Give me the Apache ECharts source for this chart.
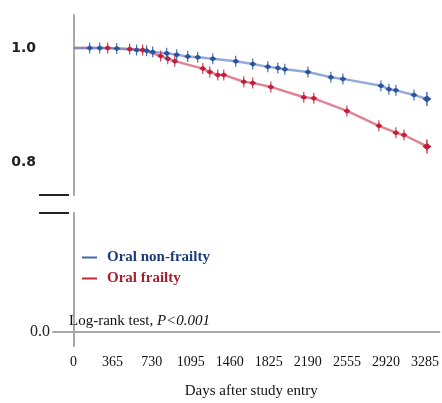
<!DOCTYPE html>
<html>
<head>
<meta charset="utf-8">
<script src="https://cdn.jsdelivr.net/npm/echarts@6/dist/echarts.min.js"></script>
<style>
  html, body { margin: 0; padding: 0; background: #fff; }
  #chart { width: 442px; height: 403px; }
</style>
</head>
<body>
<div id="chart"></div>
<script>
// 刻度
const dayTicks = [0, 365, 730, 1095, 1460, 1825, 2190, 2555, 2920, 3285];
const survTicks = [0.8, 1.0];

// Oral non-frailty 删失点
const nonFrailDays = [149, 242, 400, 585, 678, 734, 864, 957, 1059, 1152, 1292, 1505, 1663, 1803, 1896, 1961, 2175, 2388, 2500, 2853, 2927, 2992, 3160, 3280];
const nonFrailSurv = [1.0, 1.0, 0.999, 0.9965, 0.995, 0.993, 0.991, 0.988, 0.985, 0.984, 0.981, 0.977, 0.972, 0.967, 0.965, 0.963, 0.958, 0.949, 0.946, 0.934, 0.928, 0.926, 0.918, 0.911];

// Oral frailty 删失点
const frailDays = [316, 520, 641, 808, 874, 939, 1199, 1264, 1338, 1394, 1580, 1663, 1831, 2137, 2230, 2537, 2834, 2992, 3067, 3280];
const frailSurv = [1.0, 0.998, 0.9965, 0.986, 0.981, 0.977, 0.964, 0.958, 0.953, 0.953, 0.941, 0.939, 0.932, 0.914, 0.912, 0.890, 0.864, 0.852, 0.848, 0.828];

const serif = "'Liberation Serif', 'DejaVu Serif', serif";
// 删失标记：竖线中间带菱形
const censorMark = 'path://M3,0 L4,0 L4,3 L7,5.5 L4,8 L4,11 L3,11 L3,8 L0,5.5 L3,3 Z';

// 曲线数据：起点 (0, 1.0) 不画删失标记，最后一点加大
function buildCurve(days, surv) {
  const pts = [{ value: [0, 1.0], symbol: 'none' }];
  days.forEach((d, i) => {
    const last = i === days.length - 1;
    pts.push({ value: [d, surv[i]], symbolSize: last ? [9, 14] : [7, 11] });
  });
  return pts;
}

const chart = echarts.init(document.getElementById('chart'));

const axisGray = { show: true, lineStyle: { color: '#a8a8a8', width: 2 } };

chart.setOption({
  animation: false,
  title: {
    left: 69,
    top: 314,
    padding: 0,
    text: '{a|Log-rank test, }{b|P<0.001}',
    textStyle: {
      fontWeight: 'normal',
      rich: {
        a: { fontFamily: serif, fontSize: 15, fontWeight: 'normal', color: '#111' },
        b: { fontFamily: serif, fontSize: 15, fontWeight: 'normal', color: '#111', fontStyle: 'italic' },
      },
    },
  },
  legend: {
    orient: 'vertical',
    left: 82,
    top: 249,
    padding: 0,
    itemGap: 4,
    itemWidth: 15,
    itemHeight: 2,
    icon: 'rect',
    textStyle: { fontFamily: serif, fontSize: 15, fontWeight: 'bold', lineHeight: 17, padding: [0, 0, 0, 5] },
    data: [
      { name: 'Oral non-frailty', itemStyle: { color: '#3d6bb3' }, textStyle: { color: '#1d3b7a' } },
      { name: 'Oral frailty', itemStyle: { color: '#c0283a' }, textStyle: { color: '#a81c2c' } },
    ],
  },
  grid: [
    { left: 53, right: 0, top: 15, height: 180 },
    { left: 53, right: 0, top: 213, height: 133 },
  ],
  xAxis: [
    {
      gridIndex: 0,
      type: 'value',
      min: -192,
      max: 3420,
      show: false,
    },
    {
      gridIndex: 1,
      type: 'value',
      min: -192,
      max: 3420,
      axisLine: axisGray,
      axisTick: { show: false },
      splitLine: { show: false },
      axisLabel: {
        customValues: dayTicks,
        formatter: (v) => String(v),
        margin: 9,
        fontFamily: serif,
        fontSize: 14,
        color: '#111',
      },
      name: 'Days after study entry',
      nameLocation: 'middle',
      nameGap: 38,
      nameTextStyle: { fontFamily: serif, fontSize: 15, color: '#111', padding: [0, 0, 0, 10] },
    },
  ],
  yAxis: [
    {
      gridIndex: 0,
      type: 'value',
      min: 0.7432,
      max: 1.0576,
      axisLine: axisGray,
      axisTick: { show: false },
      splitLine: { show: false },
      axisLabel: {
        customValues: survTicks,
        formatter: (v) => v.toFixed(1),
        margin: 17,
        fontFamily: "'DejaVu Sans', sans-serif",
        fontWeight: 'bold',
        fontSize: 14,
        color: '#222',
      },
    },
    {
      gridIndex: 1,
      type: 'value',
      min: -0.1176,
      max: 1,
      axisLine: axisGray,
      axisTick: { show: false },
      splitLine: { show: false },
      axisLabel: {
        customValues: [0],
        formatter: (v) => v.toFixed(1),
        margin: 3,
        fontFamily: serif,
        fontSize: 16,
        color: '#222',
      },
    },
  ],
  graphic: [
    // 断轴标记
    { type: 'line', shape: { x1: 39, y1: 195, x2: 69, y2: 195 }, style: { stroke: '#222', lineWidth: 2 } },
    { type: 'line', shape: { x1: 39, y1: 213, x2: 69, y2: 213 }, style: { stroke: '#222', lineWidth: 2 } },
  ],
  series: [
    {
      name: 'Oral frailty',
      type: 'line',
      xAxisIndex: 0,
      yAxisIndex: 0,
      data: buildCurve(frailDays, frailSurv),
      symbol: censorMark,
      showAllSymbol: true,
      lineStyle: { color: '#d65a70', width: 2.5, opacity: 0.75 },
      itemStyle: { color: '#c41e3a' },
    },
    {
      name: 'Oral non-frailty',
      type: 'line',
      xAxisIndex: 0,
      yAxisIndex: 0,
      data: buildCurve(nonFrailDays, nonFrailSurv),
      symbol: censorMark,
      showAllSymbol: true,
      lineStyle: { color: '#6f8fcc', width: 2.5, opacity: 0.75 },
      itemStyle: { color: '#2a53a0' },
    },
  ],
});

window.addEventListener('resize', () => chart.resize());
</script>
</body>
</html>
